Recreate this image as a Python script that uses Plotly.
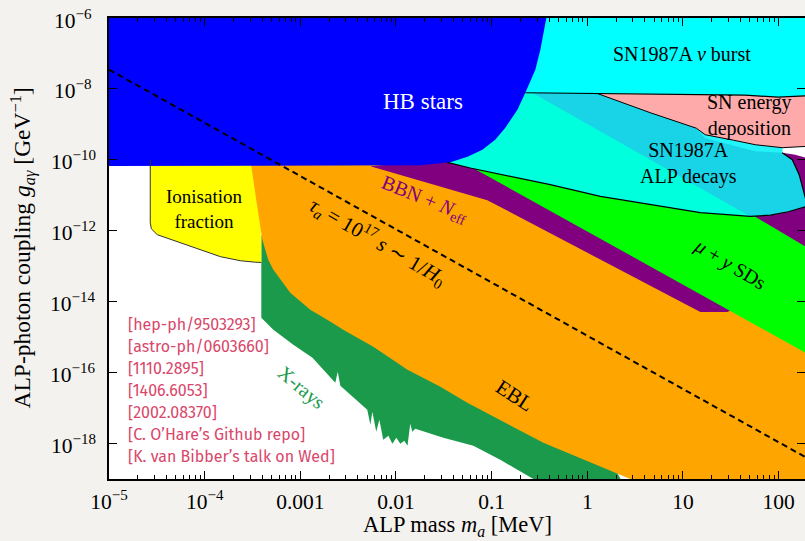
import plotly.graph_objects as go
import numpy as np

# ---------------- data (mass in MeV, coupling in GeV^-1) ----------------
hb_m = [1e-6, 0.018, 0.037, 0.056, 0.080, 0.109, 0.139, 0.186, 0.225, 0.286, 0.323, 0.373, 0.40, 1e-6]
hb_g = [6.6e-11, 7.0e-11, 8.5e-11, 1.23e-10, 1.93e-10, 3.7e-10, 8.0e-10, 2.6e-9, 7.8e-9, 3.5e-8, 1.28e-7, 1e-6, 1e-5, 1e-5]

nub_m = [0.2, 0.225, 1.37, 15.2, 44.9, 99, 190, 300, 300, 0.2]
nub_g = [7.8e-9, 7.8e-9, 7.5e-9, 6.9e-9, 6.65e-9, 5.85e-9, 6.4e-9, 6.4e-9, 1e-5, 1e-5]

alp_m = [0.0344, 0.04, 0.2, 0.225, 1.37, 15.2, 44.9, 99, 109, 109, 139, 164, 181, 195, 190, 126, 82, 50.6,
         15.2, 4.56, 1.37, 0.41, 0.123, 0.0598, 0.0344]
alp_g = [8.47e-11, 1.5e-10, 7.8e-9, 7.8e-9, 7.5e-9, 6.9e-9, 6.65e-9, 5.85e-9, 5.8e-9, 1.59e-10, 1.01e-10,
         3.81e-11, 1.44e-11, 6.6e-12, 4.77e-12, 3.44e-12, 2.75e-12, 2.54e-12, 3.23e-12, 5.43e-12, 9.31e-12,
         1.99e-11, 3.81e-11, 5.89e-11, 8.47e-11]

sky_m = [0.266, 1.37, 15.2, 44.9, 99, 109, 109, 139, 164, 181, 195, 190, 126, 82, 50.6, 0.266]
sky_g = [7.8e-9, 7.5e-9, 6.9e-9, 6.65e-9, 5.85e-9, 5.8e-9, 1.59e-10, 1.01e-10, 3.81e-11, 1.44e-11, 6.6e-12,
         4.77e-12, 3.44e-12, 2.75e-12, 2.54e-12, 7.8e-9]

strip_m = [13.8, 109, 109, 57.1, 17.1]
strip_g = [7.8e-10, 3.0e-10, 1.59e-10, 1.75e-10, 4.07e-10]

pink_m = [1.27, 15.2, 44.9, 99, 190, 300, 300, 190, 109, 57.1, 33.7, 17.1, 13.8, 4.56, 1.27]
pink_g = [7.45e-9, 6.9e-9, 6.65e-9, 5.85e-9, 6.4e-9, 6.4e-9, 2.39e-10, 2.39e-10, 2.2e-10, 2.67e-10, 3.58e-10,
          5.11e-10, 7.8e-10, 2.13e-9, 7.45e-9]

bbn_m = [5.4e-3, 0.03, 0.123, 109, 149, 190, 300, 300, 29.1, 15.2, 0.0901, 5.4e-3]
bbn_g = [6.6e-11, 1.0e-10, 3e-10, 1.59e-10, 1.40e-10, 1.15e-10, 1.1e-10, 1e-13, 5.12e-15, 5.12e-15, 7.27e-12, 6.6e-11]

sd_m = [0.0598, 300, 300, 57.1, 1.37, 0.0598]
sd_g = [6.53e-11, 1.84e-16, 1.74e-13, 2.49e-12, 9.8e-10, 6.53e-11]

ebl_m = [3.0e-4, 0.05, 300, 300, 3.5, 2.82, 0.347, 5.57e-2, 2.91e-2, 1.32e-2, 5.79e-3, 2.81e-3, 1.91e-3,
         1.27e-3, 7.85e-4, 5.23e-4, 4.62e-4, 4.01e-4, 3.55e-4, 3.08e-4, 3.0e-4]
ebl_g = [1e-10, 1e-10, 1e-13, 1e-20, 1e-20, 1e-19, 1.05e-18, 1.41e-17, 4.0e-17, 1.21e-16, 5.37e-16, 1.62e-15,
         3.10e-15, 5.95e-15, 1.79e-14, 7.98e-14, 1.53e-13, 5.60e-13, 4.77e-12, 6.6e-11, 1e-10]

xr_m = [3.91e-4, 0.1, 3.5, 0.3, 0.273, 0.123, 6.44e-2, 3.13e-2, 1.59e-2, 1.48e-2, 1.41e-2, 1.32e-2, 1.22e-2,
        1.11e-2, 1.007e-2, 9.17e-3, 8.32e-3, 7.36e-3, 6.70e-3, 6.22e-3, 5.66e-3, 5.40e-3, 5.01e-3, 3.49e-3,
        2.62e-3, 2.46e-3, 2.32e-3, 1.34e-3, 8.45e-4, 5.23e-4, 3.91e-4]
xr_g = [7.3e-13, 7.3e-13, 1e-20, 1e-20, 1e-19, 3.49e-19, 8.7e-19, 1.46e-18, 2.62e-18, 2.15e-18, 3.62e-18, 8.7e-19,
        1.20e-18, 9.9e-19, 1.46e-18, 9.9e-19, 1.66e-18, 1.28e-18, 4.70e-18, 2.15e-18, 7.91e-18, 3.39e-18,
        8.98e-18, 2.09e-17, 4.27e-17, 1.06e-16, 5.19e-17, 2.63e-16, 6.12e-16, 1.62e-15, 3.53e-15]

ion_m = [2.70e-5, 2.70e-5, 2.77e-5, 3.20e-5, 1.46e-4, 2.36e-4, 3.38e-4, 3.91e-4, 3.91e-4]
ion_g = [1e-10, 1.69e-12, 1.14e-12, 7.74e-13, 1.86e-13, 1.43e-13, 1.30e-13, 1.28e-13, 1e-10]

tau_m = [1e-5, 300]
tau_g = [3.5e-8, 2.1e-19]

x_tickvals = [1e-5, 1e-4, 1e-3, 1e-2, 1e-1, 1, 10, 100]
x_ticktext = ["10<sup>−5</sup>", "10<sup>−4</sup>", "0.001", "0.01", "0.1", "1", "10", "100"]
y_tickvals = [1e-18, 1e-16, 1e-14, 1e-12, 1e-10, 1e-8, 1e-6]
y_ticktext = ["10<sup>−18</sup>", "10<sup>−16</sup>", "10<sup>−14</sup>", "10<sup>−12</sup>",
              "10<sup>−10</sup>", "10<sup>−8</sup>", "10<sup>−6</sup>"]

refs = ["[hep-ph/9503293]", "[astro-ph/0603660]", "[1110.2895]", "[1406.6053]", "[2002.08370]",
        "[C. O’Hare’s Github repo]", "[K. van Bibber’s talk on Wed]"]

# label texts and positions (mass, coupling)
labels = [
    ("HB stars", 0.0193, 4.37e-9, "white", 23, 0),
    ("SN1987A <i>ν</i> burst", 9.84, 9.84e-8, "black", 20, 0),
    ("SN energy<br>deposition", 49.4, 1.76e-9, "black", 20, 0),
    ("SN1987A<br>ALP decays", 11.4, 7.78e-11, "black", 20, 0),
    ("Ionisation<br>fraction", 9.9e-5, 4.19e-12, "black", 19, 0),
    ("BBN + <i>N</i><sub>eff</sub>", 0.0198, 7.51e-12, "#800080", 20, 22),
    ("<i>τ<sub>a</sub></i> = 10<sup>17</sup> <i>s</i> ∼ 1/<i>H</i><sub>0</sub>", 6.53e-3, 4.91e-13, "black", 21, 30),
    ("<i>μ</i> + <i>y</i> SDs", 31.3, 1.10e-13, "black", 20, 31),
    ("EBL", 0.177, 2.23e-17, "black", 21, 33),
    ("X-rays", 1.02e-3, 3.75e-17, "#1b9a4c", 20, 40),
]

SERIF = "Liberation Serif"

fig = go.Figure()

def poly(m, g, color, line_w=0, line_c=None):
    fig.add_trace(go.Scatter(x=m, y=g, mode="lines", fill="toself", fillcolor=color,
                             line=dict(width=line_w, color=line_c or color), hoverinfo="skip",
                             showlegend=False))

def outline(m, g, w=1.2, color="black", dash=None):
    fig.add_trace(go.Scatter(x=m, y=g, mode="lines", line=dict(width=w, color=color, dash=dash),
                             hoverinfo="skip", showlegend=False))

poly(xr_m, xr_g, "#1b9a4c")
poly(ion_m, ion_g, "#ffff00")
poly(ebl_m, ebl_g, "#ffa500")
poly(bbn_m, bbn_g, "#800080")
poly(sd_m, sd_g, "#00ff00")
poly(nub_m, nub_g, "#00ffff")
poly(alp_m, alp_g, "#00ffdd")
poly(sky_m, sky_g, "#18d4e6")
poly(strip_m, strip_g, "#22f4fa")
poly(pink_m, pink_g, "#ffaaaa")
poly(hb_m, hb_g, "#0000ff")

# outlines
outline(ion_m[:8], ion_g[:8], 1.0, "#333333")
outline(nub_m[1:7], nub_g[1:7], 1.2)
outline(alp_m[9:], alp_g[9:], 1.2)
outline(pink_m[8:] + pink_m[:1], pink_g[8:] + pink_g[:1], 1.0)
outline(pink_m[7:9], pink_g[7:9], 1.0)
outline(tau_m, tau_g, 2.0, "black", "6px,4px")

ann = []
for txt, m, g, col, size, ang in labels:
    ann.append(dict(x=np.log10(m), y=np.log10(g), xref="x", yref="y", text=txt, showarrow=False,
                    font=dict(family=SERIF, size=size, color=col), textangle=ang,
                    xanchor="center", yanchor="middle"))

# y tick labels (centred, as in the reference)
for v, t in zip(y_tickvals, y_ticktext):
    ann.append(dict(x=(73 - 109) / 696, y=np.log10(v), xref="paper", yref="y", text=t, showarrow=False,
                    xanchor="center", yanchor="middle", yshift=-1,
                    font=dict(family=SERIF, size=21.5, color="black")))

for i, r in enumerate(refs):
    ypix = 325 + i * 21.9
    ann.append(dict(x=(126 - 109) / 696, y=(479.3 - ypix) / 461, xref="paper", yref="paper", text=r,
                    showarrow=False, xanchor="left", yanchor="middle",
                    font=dict(family="Fira Sans, Lato, sans-serif", size=16, color="#d9476a")))

ann.append(dict(x=0.5, y=(479.3 - 526) / 461, xref="paper", yref="paper",
                text="ALP mass <i>m<sub>a</sub></i> [MeV]", showarrow=False,
                xanchor="center", yanchor="middle", font=dict(family=SERIF, size=22.5, color="black")))
ann.append(dict(x=(22 - 109) / 696, y=0.5, xref="paper", yref="paper", textangle=-90,
                text="ALP-photon coupling <i>g<sub>aγ</sub></i> [GeV<sup>−1</sup>]", showarrow=False,
                xanchor="center", yanchor="middle", font=dict(family=SERIF, size=23.5, color="black")))

minor_x = [k * 10.0 ** e for e in range(-5, 3) for k in range(2, 10)]

fig.update_layout(
    width=805, height=541,
    margin=dict(l=109, r=0, t=18, b=62, autoexpand=False),
    paper_bgcolor="#f4f2ee", plot_bgcolor="white",
    annotations=ann, showlegend=False,
)
fig.update_xaxes(type="log", range=[-5, -5 + 696 / 95.66], showgrid=False, zeroline=False, automargin=False,
                 tickmode="array", tickvals=x_tickvals, ticktext=x_ticktext, ticklabelstandoff=2,
                 ticks="inside", ticklen=8, tickwidth=1.3, tickcolor="black",
                 showline=True, linewidth=2, linecolor="black", mirror="allticks",
                 tickfont=dict(family=SERIF, size=21.5, color="black"),
                 minor=dict(ticks="inside", ticklen=4, tickwidth=1, tickcolor="black",
                            tickmode="array", tickvals=minor_x, showgrid=False))
fig.update_yaxes(type="log", range=[-19, -6], showgrid=False, zeroline=False, automargin=False,
                 tickmode="array", tickvals=y_tickvals, showticklabels=False,
                 ticks="inside", ticklen=8, tickwidth=1.3, tickcolor="black",
                 showline=True, linewidth=2, linecolor="black", mirror="allticks")

fig.write_html("out.html", config={"displayModeBar": False},
               post_script="document.body.style.margin='0';document.body.style.padding='0';"
                           "document.body.style.background='#f4f2ee';")
